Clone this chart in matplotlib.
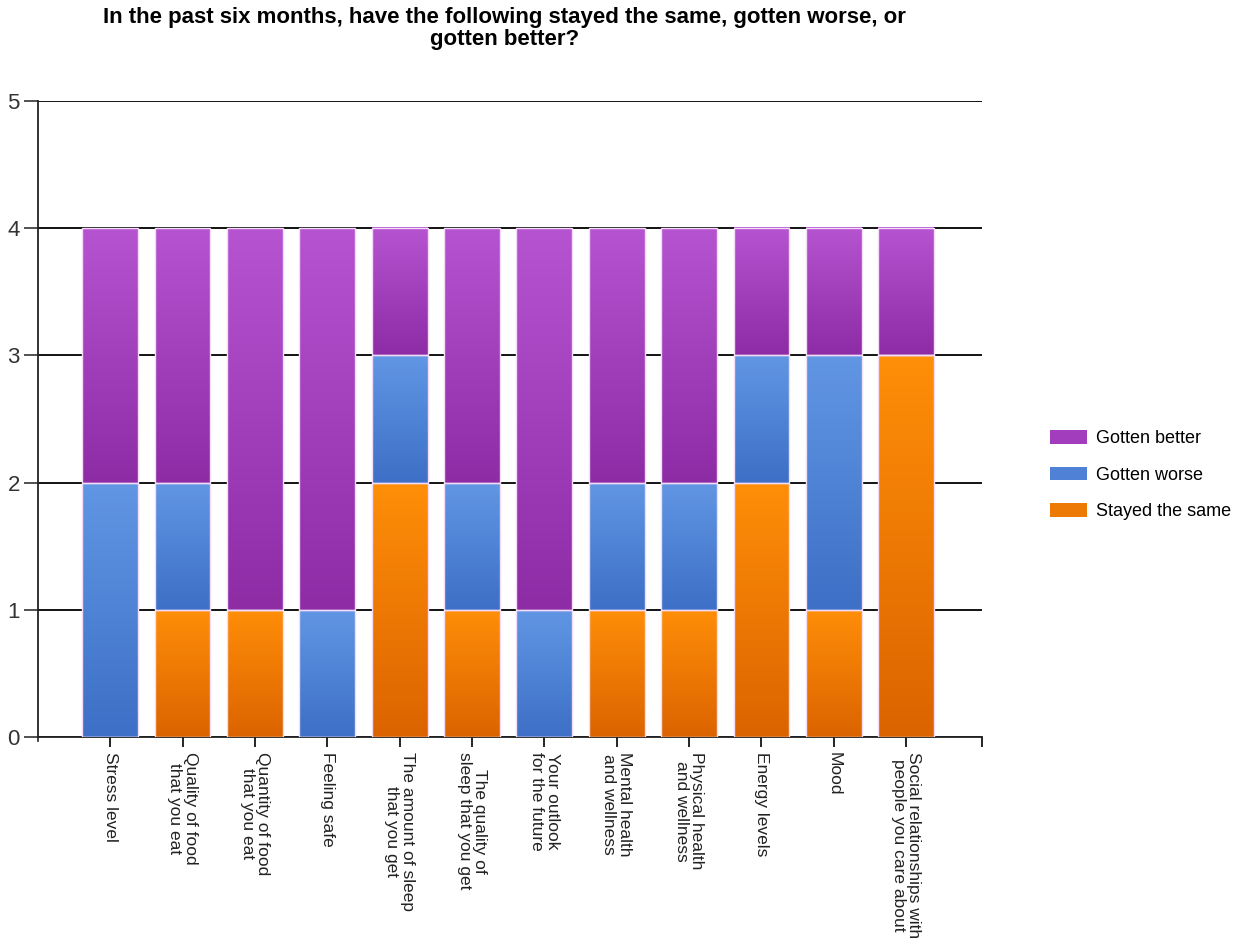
import numpy as np
import matplotlib
matplotlib.use("Agg")
import matplotlib.pyplot as plt
from matplotlib.colors import LinearSegmentedColormap
from matplotlib.patches import Patch

plt.rcParams['font.family'] = ['Liberation Sans', 'DejaVu Sans']

categories = [
    'Stress level', 'Quality of food\nthat you eat', 'Quantity of food\nthat you eat',
    'Feeling safe', 'The amount of sleep\nthat you get', 'The quality of\nsleep that you get',
    'Your outlook\nfor the future', 'Mental health\nand wellness', 'Physical health\nand wellness',
    'Energy levels', 'Mood', 'Social relationships with\npeople you care about',
]
stayed_same = [0, 1, 1, 0, 2, 1, 0, 1, 1, 2, 1, 3]
gotten_worse = [2, 1, 0, 1, 1, 1, 1, 1, 1, 1, 2, 0]
gotten_better = [2, 2, 3, 3, 1, 2, 3, 2, 2, 1, 1, 1]

title = ('In the past six months, have the following stayed the same, gotten worse, or\n'
         'gotten better?')

# (bottom colour, top colour) of the vertical shading of each series
shades = {
    'Stayed the same': ('#dc6400', '#ff8e08'),
    'Gotten worse': ('#3d70c6', '#6196e4'),
    'Gotten better': ('#8e2ca6', '#b653d0'),
}

fig = plt.figure(figsize=(12.36, 9.39), dpi=100)
ax = fig.add_axes([0.0307, 0.2151, 0.7638, 0.6773])

x = np.arange(len(categories))
width = 0.77
ramp = np.linspace(0, 1, 64).reshape(-1, 1)

bottom = np.zeros(len(categories))
for name, vals in [('Stayed the same', stayed_same), ('Gotten worse', gotten_worse),
                   ('Gotten better', gotten_better)]:
    vals = np.array(vals, dtype=float)
    lo, hi = shades[name]
    cmap = LinearSegmentedColormap.from_list(name, [lo, hi])
    bars = ax.bar(x, vals, width, bottom=bottom, color='none', edgecolor='#f3dcf8',
                  linewidth=1.0, zorder=4)
    for rect, v in zip(bars, vals):
        if v <= 0:
            continue
        x0, y0 = rect.get_x(), rect.get_y()
        ax.imshow(ramp, cmap=cmap, origin='lower', aspect='auto', zorder=3,
                  extent=[x0, x0 + rect.get_width(), y0, y0 + rect.get_height()],
                  interpolation='bilinear')
    bottom += vals

ax.set_xlim(-1, 12.05)
ax.set_ylim(0, 5)
ax.set_yticks(range(6))
ax.tick_params(axis='y', labelsize=16, length=10, width=1.2, pad=3, colors='#333333')
ax.set_xticks(list(x) + [12.05])
ax.set_xticklabels(categories + [''], rotation=-90, fontsize=12.5, va='top', ha='center',
                   linespacing=1.05, color='#222222')
ax.tick_params(axis='x', length=7, width=1.2, pad=4)

# extra tick at the left corner of the baseline
ax.plot([-1, -1], [0, -0.035], color='#222222', lw=1.2, clip_on=False)

ax.yaxis.grid(True, color='black', linewidth=1.3, zorder=1)
ax.set_axisbelow(True)
for side in ['top', 'right']:
    ax.spines[side].set_visible(False)
for side in ['left', 'bottom']:
    ax.spines[side].set_linewidth(1.3)
    ax.spines[side].set_color('#222222')

fig.text(0.408, 0.993, title, ha='center', va='top', fontsize=16, fontweight='bold',
         linespacing=1.12)

handles = [Patch(facecolor='#a23ebd', label='Gotten better'),
           Patch(facecolor='#4f82d6', label='Gotten worse'),
           Patch(facecolor='#ec7a04', label='Stayed the same')]
fig.legend(handles=handles, loc='center left', bbox_to_anchor=(0.836, 0.494), frameon=False,
           fontsize=13, handlelength=2.1, handleheight=0.8, labelspacing=1.08, handletextpad=0.5)

fig.savefig('out.png', dpi=100)
